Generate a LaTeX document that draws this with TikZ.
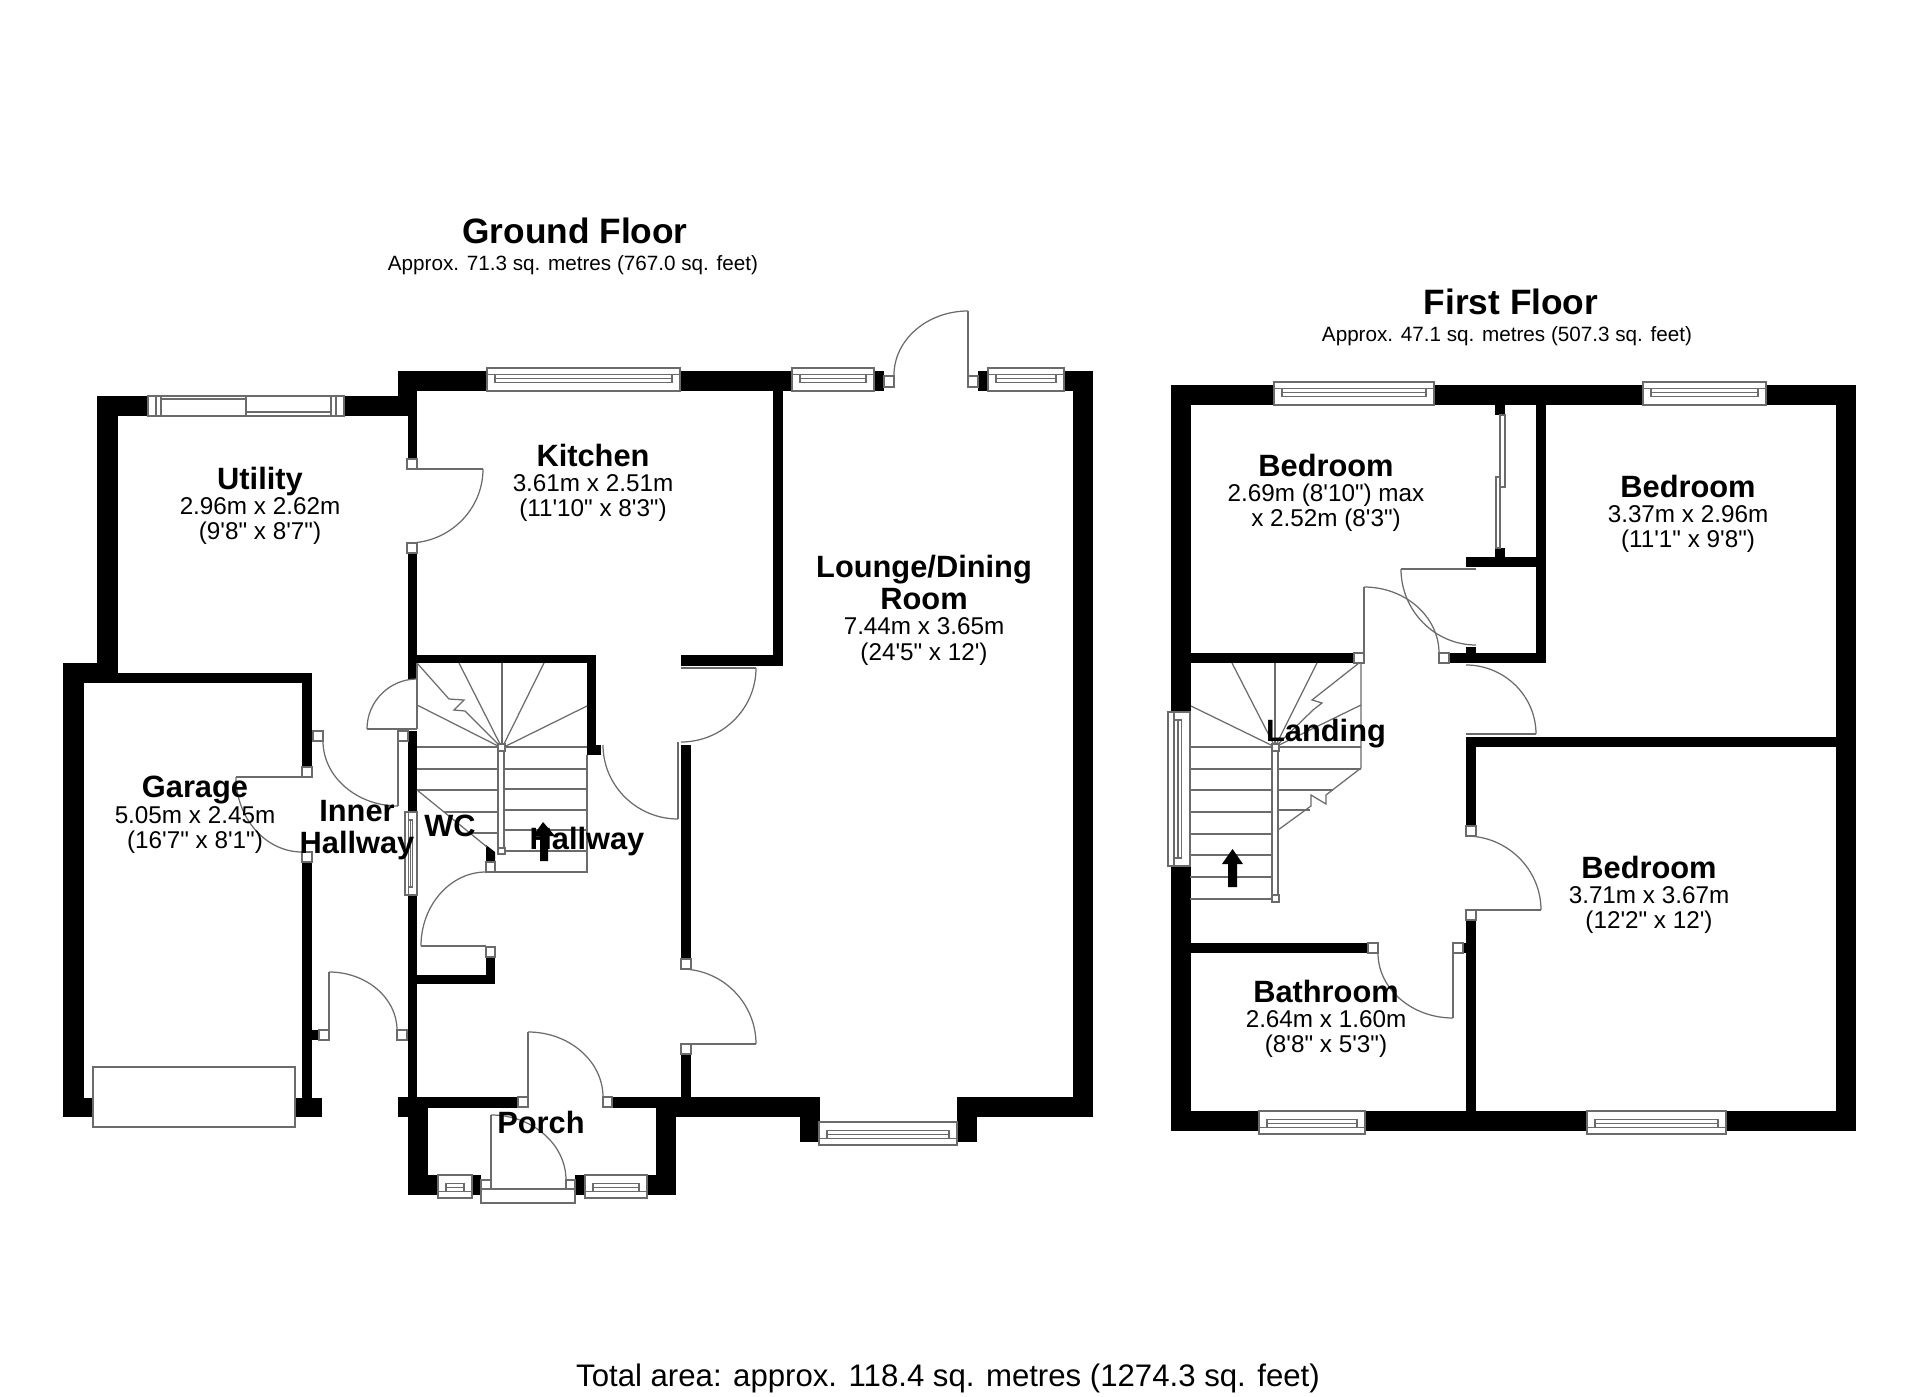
\documentclass[tikz,border=0pt]{standalone}
\usepackage{fontspec}
\newfontfamily\planfont{Liberation Sans}
\usetikzlibrary{positioning}

\tikzset{
    wall/.style={fill=black},
    planline/.style={draw=black!58, line width=0.35pt},
    jambbox/.style={planline, fill=white},
    glass/.style={planline, fill=white},
    roomtext/.style={align=center, inner sep=0pt, text=black, font=\planfont\fontsize{6.9}{7.2}\selectfont},
    roomname/.style={align=center, inner sep=0pt, text=black, font=\planfont\bfseries\fontsize{8.76}{8.9}\selectfont},
    floorname/.style={inner sep=0pt, font=\planfont\bfseries\fontsize{10.03}{11}\selectfont},
    floorarea/.style={inner sep=0pt, font=\planfont\fontsize{5.88}{7}\selectfont},
    totalarea/.style={inner sep=0pt, font=\planfont\fontsize{8.86}{10}\selectfont}
}

% title line inside a room label
\newcommand{\rname}[1]{{\bfseries\fontsize{8.76}{7.2}\selectfont #1}}

% swing of a door: flat at the first point, upright at the second
\newcommand{\doorswing}[4]{
    \draw[planline] (#1,#2) .. controls ({#1+0.55*(#3-#1)},#2) and (#3,{#4-0.55*(#4-#2)}) .. (#3,#4);
}

% window in a horizontal wall: from x1 to x2, outer face then inner face
\newcommand{\windowh}[4]{
    \draw[glass] (#1,#3) rectangle (#2,#4);
    \draw[planline] (#1,{#3+0.27*(#4-#3)}) -- (#2,{#3+0.27*(#4-#3)});
    \draw[planline] ({#1+8},{#3+0.27*(#4-#3)}) rectangle ({#2-8},{#3+0.62*(#4-#3)});
    \draw[planline] ({#1+8},{#3+0.45*(#4-#3)}) -- ({#2-8},{#3+0.45*(#4-#3)});
}

% same for a vertical wall
\newcommand{\windowv}[4]{
    \draw[glass] (#3,#1) rectangle (#4,#2);
    \draw[planline] ({#3+0.27*(#4-#3)},#1) -- ({#3+0.27*(#4-#3)},#2);
    \draw[planline] ({#3+0.27*(#4-#3)},{#1+8}) rectangle ({#3+0.62*(#4-#3)},{#2-8});
    \draw[planline] ({#3+0.45*(#4-#3)},{#1+8}) -- ({#3+0.45*(#4-#3)},{#2-8});
}

\begin{document}
\begin{tikzpicture}[x=0.01cm, y=-0.01cm]
    \useasboundingbox (0,0) rectangle (1920,1397);
    \fill[white] (0,0) rectangle (1920,1397);

    % Ground floor: outer walls
    \fill[wall] (97,396) rectangle (398,416);
    \fill[wall] (398,371) rectangle (417,416);
    \fill[wall] (398,371) rectangle (884,391);
    \fill[wall] (978,371) rectangle (1093,391);
    \fill[wall] (1073,371) rectangle (1093,1117);
    \fill[wall] (97,396) rectangle (118,673);
    \fill[wall] (63,663) rectangle (118,683);
    \fill[wall] (63,673) rectangle (312,683);
    \fill[wall] (63,663) rectangle (84,1117);
    \fill[wall] (63,1098) rectangle (93,1117);
    \fill[wall] (295,1098) rectangle (322,1117);
    \fill[wall] (302,673) rectangle (312,767);
    \fill[wall] (302,862) rectangle (312,1098);
    \fill[wall] (312,1030) rectangle (319,1040);

    % Ground floor: inner walls
    \fill[wall] (408,416) rectangle (417,459);
    \fill[wall] (408,553) rectangle (417,679);
    \fill[wall] (408,731) rectangle (417,1098);
    \fill[wall] (408,655) rectangle (596,663);
    \fill[wall] (587,655) rectangle (596,755);
    \fill[wall] (587,745) rectangle (601,755);
    \fill[wall] (773,391) rectangle (783,666);
    \fill[wall] (681,655) rectangle (783,666);
    \fill[wall] (681,745) rectangle (691,959);
    \fill[wall] (681,1054) rectangle (691,1097);
    \fill[wall] (417,975) rectangle (495,984);
    \fill[wall] (486,957) rectangle (495,984);
    \fill[wall] (486,845) -- (495,852) -- (495,862) -- (486,862) -- cycle;

    % Porch and bay
    \fill[wall] (398,1097) rectangle (518,1108);
    \fill[wall] (398,1097) rectangle (408,1117);
    \fill[wall] (408,1097) rectangle (428,1195);
    \fill[wall] (408,1175) rectangle (481,1195);
    \fill[wall] (575,1175) rectangle (676,1195);
    \fill[wall] (612,1097) rectangle (656,1108);
    \fill[wall] (656,1097) rectangle (676,1195);
    \fill[wall] (676,1097) rectangle (820,1117);
    \fill[wall] (800,1097) rectangle (820,1142);
    \fill[wall] (957,1097) rectangle (977,1142);
    \fill[wall] (977,1097) rectangle (1093,1117);

    % First floor walls
    \fill[wall] (1171,385) rectangle (1856,405);
    \fill[wall] (1171,385) rectangle (1191,712);
    \fill[wall] (1171,866) rectangle (1191,1131);
    \fill[wall] (1171,1111) rectangle (1856,1131);
    \fill[wall] (1836,385) rectangle (1856,1131);
    \fill[wall] (1536,405) rectangle (1546,663);
    \fill[wall] (1449,653) rectangle (1546,663);
    \fill[wall] (1466,557) rectangle (1536,567);
    \fill[wall] (1495,405) rectangle (1505,415);
    \fill[wall] (1495,548) rectangle (1505,558);
    \fill[wall] (1466,647) rectangle (1476,653);
    \fill[wall] (1191,653) rectangle (1354,663);
    \fill[wall] (1466,737) rectangle (1836,747);
    \fill[wall] (1466,737) rectangle (1476,826);
    \fill[wall] (1466,920) rectangle (1476,1111);
    \fill[wall] (1191,943) rectangle (1368,953);
    \fill[wall] (1463,943) rectangle (1466,953);

    % Windows
    \windowh{487}{680}{368}{391}
    \windowh{792}{874}{368}{391}
    \windowh{988}{1064}{368}{391}
    \windowh{819}{957}{1145}{1122}
    \windowh{438}{472}{1198}{1175}
    \windowh{585}{647}{1198}{1175}
    \windowh{1274}{1434}{382}{405}
    \windowh{1643}{1766}{382}{405}
    \windowh{1259}{1365}{1134}{1111}
    \windowh{1587}{1726}{1134}{1111}
    \windowv{812}{895}{405}{417}
    \windowv{712}{866}{1168}{1190}

    % Sliding window of the utility
    \draw[glass] (148,396) rectangle (344,416);
    \draw[planline] (156,396) -- (156,416);
    \draw[planline] (161,396) -- (161,416);
    \draw[planline] (331,396) -- (331,416);
    \draw[planline] (336,396) -- (336,416);
    \draw[planline] (246,396) -- (246,416);
    \draw[planline] (161,399) -- (246,399);
    \draw[planline] (246,412) -- (331,412);

    % Garage door and front door step
    \draw[glass] (93,1067) rectangle (295,1127);
    \draw[glass] (481,1189) rectangle (575,1203);

    % Door leaves
    \draw[planline] (408,469) -- (483,469);
    \draw[planline] (968,311) -- (968,386);
    \draw[planline] (367,729) -- (417,729);
    \draw[planline] (398,731) -- (398,806);
    \draw[planline] (236,777) -- (302,777);
    \draw[planline] (329,972) -- (329,1030);
    \draw[planline] (421,946) -- (486,946);
    \draw[planline] (681,668) -- (756,668);
    \draw[planline] (678,742) -- (678,819);
    \draw[planline] (681,1044) -- (756,1044);
    \draw[planline] (528,1032) -- (528,1097);
    \draw[planline] (491,1115) -- (491,1180);
    \draw[planline] (1364,587) -- (1364,653);
    \draw[planline] (1401,569) -- (1476,569);
    \draw[planline] (1466,734) -- (1536,734);
    \draw[planline] (1466,910) -- (1541,910);
    \draw[planline] (1453,953) -- (1453,1018);

    % Door swings
    \doorswing{408}{543}{483}{469}
    \doorswing{968}{311}{894}{375}
    \doorswing{417}{679}{367}{729}
    \doorswing{398}{806}{323}{741}
    \doorswing{302}{852}{236}{777}
    \doorswing{329}{972}{397}{1030}
    \doorswing{486}{872}{421}{946}
    \doorswing{681}{742}{756}{668}
    \doorswing{678}{819}{603}{745}
    \doorswing{681}{969}{756}{1044}
    \doorswing{528}{1032}{603}{1097}
    \doorswing{491}{1115}{566}{1180}
    \doorswing{1364}{587}{1439}{653}
    \doorswing{1476}{645}{1401}{569}
    \doorswing{1466}{665}{1536}{734}
    \doorswing{1466}{836}{1541}{910}
    \doorswing{1453}{1018}{1378}{953}

    % Jambs
    \draw[jambbox] (407,459) rectangle (417,469);
    \draw[jambbox] (407,543) rectangle (417,553);
    \draw[jambbox] (884,376) rectangle (894,387);
    \draw[jambbox] (968,376) rectangle (978,387);
    \draw[jambbox] (313,731) rectangle (323,741);
    \draw[jambbox] (398,731) rectangle (408,741);
    \draw[jambbox] (302,767) rectangle (312,777);
    \draw[jambbox] (302,852) rectangle (312,862);
    \draw[jambbox] (319,1030) rectangle (329,1040);
    \draw[jambbox] (397,1030) rectangle (407,1040);
    \draw[jambbox] (486,862) rectangle (495,872);
    \draw[jambbox] (486,947) rectangle (495,957);
    \draw[jambbox] (681,959) rectangle (691,969);
    \draw[jambbox] (681,1044) rectangle (691,1054);
    \draw[jambbox] (518,1097) rectangle (528,1107);
    \draw[jambbox] (603,1097) rectangle (612,1107);
    \draw[jambbox] (481,1180) rectangle (491,1189);
    \draw[jambbox] (566,1180) rectangle (575,1189);
    \draw[jambbox] (1354,653) rectangle (1364,663);
    \draw[jambbox] (1439,653) rectangle (1449,663);
    \draw[jambbox] (1466,826) rectangle (1476,836);
    \draw[jambbox] (1466,910) rectangle (1476,920);
    \draw[jambbox] (1368,943) rectangle (1378,953);
    \draw[jambbox] (1453,943) rectangle (1463,953);

    % Sliding doors of the wardrobe
    \draw[planline] (1500,415) rectangle (1505,487);
    \draw[planline] (1496,477) rectangle (1500,548);

    % Stairs, ground floor
    \draw[planline] (417,663) -- (417,729);
    \draw[planline] (587,755) -- (587,872) -- (496,872);
    \foreach \x/\y in {459/663, 502/663, 544/663, 587/706, 417/705} {
        \draw[planline] (502,748) -- (\x,\y);
    }
    \draw[planline] (417,663) -- (449,699) -- (464,700) -- (454,710) -- (465,711) -- (502,748);
    \foreach \y in {747,769,789,810,830,851} {
        \draw[planline] (505,\y) -- (587,\y);
    }
    \foreach \x/\y in {417/747, 417/769, 417/790, 444/812, 470/833} {
        \draw[planline] (\x,\y) -- (498,\y);
    }
    \draw[planline] (417,790) -- (487,847);
    \draw[jambbox] (498,748) rectangle (504,851);
    \draw[jambbox] (498,744) rectangle (505,751);
    \draw[jambbox] (498,848) rectangle (505,854);
    \fill (540,861) -- (540,836) -- (533,836) -- (543,822) -- (555,836) -- (548,836) -- (548,861) -- cycle;

    % Stairs, first floor
    \draw[planline] (1361,663) -- (1361,768) -- (1326,795) -- (1326,804) -- (1311,795) -- (1311,806) -- (1278,830);
    \foreach \x/\y in {1232/663, 1275/663, 1317/663, 1361/705, 1191/706} {
        \draw[planline] (1275,747) -- (\x,\y);
    }
    \draw[planline] (1359,663) -- (1312,700) -- (1322,703) -- (1313,710) -- (1275,747);
    \foreach \y in {747,769,790,812,834,855,877,899} {
        \draw[planline] (1190,\y) -- (1272,\y);
    }
    \foreach \x/\y in {1361/747, 1361/769, 1333/790, 1310/810} {
        \draw[planline] (1279,\y) -- (\x,\y);
    }
    \draw[jambbox] (1272,747) rectangle (1278,899);
    \draw[jambbox] (1272,744) rectangle (1279,751);
    \draw[jambbox] (1272,895) rectangle (1279,902);
    \fill (1228,887) -- (1228,864) -- (1222,864) -- (1232.5,849) -- (1243,864) -- (1237,864) -- (1237,887) -- cycle;

    % Room labels
    \node[roomtext] (utility) at (260,506) {\rname{Utility}\\2.96m x 2.62m\\(9'8" x 8'7")};
    \node[roomtext] (garage) at (195,815) {\rname{Garage}\\5.05m x 2.45m\\(16'7" x 8'1")};
    \node[roomtext] (kitchen) at (593,483) {\rname{Kitchen}\\3.61m x 2.51m\\(11'10" x 8'3")};
    \node[roomtext] (lounge) at (924,610) {\rname{Lounge/Dining}\\[0.3pt]\rname{Room}\\7.44m x 3.65m\\(24'5" x 12')};
    \node[roomtext] (bedroomA) at (1326,493) {\rname{Bedroom}\\2.69m (8'10") max\\x 2.52m (8'3")};
    \node[roomtext] (bedroomB) at (1688,514) {\rname{Bedroom}\\3.37m x 2.96m\\(11'1" x 9'8")};
    \node[roomtext] (bedroomC) at (1649,895) {\rname{Bedroom}\\3.71m x 3.67m\\(12'2" x 12')};
    \node[roomtext] (bathroom) at (1326,1019) {\rname{Bathroom}\\2.64m x 1.60m\\(8'8" x 5'3")};
    \node[roomname] (innerhall) at (357,830) {Inner\\Hallway};
    \node[roomname] (wc) at (450,826) {WC};
    \node[roomname] (hallway) at (587,842) {Hallway};
    \node[roomname] (porch) at (541,1122) {Porch};
    \node[roomname] (landing) at (1326,734) {Landing};

    % Floor titles
    \node[floorname] (groundtitle) at (575,231) {Ground Floor};
    \node[floorarea] (groundarea) at (573,265) {Approx. 71.3 sq. metres (767.0 sq. feet)};
    \node[floorname] (firsttitle) at (1511,302) {First Floor};
    \node[floorarea] (firstarea) at (1507,336) {Approx. 47.1 sq. metres (507.3 sq. feet)};
    \node[totalarea] (total) at (948,1378) {Total area: approx. 118.4 sq. metres (1274.3 sq. feet)};
\end{tikzpicture}
\end{document}
